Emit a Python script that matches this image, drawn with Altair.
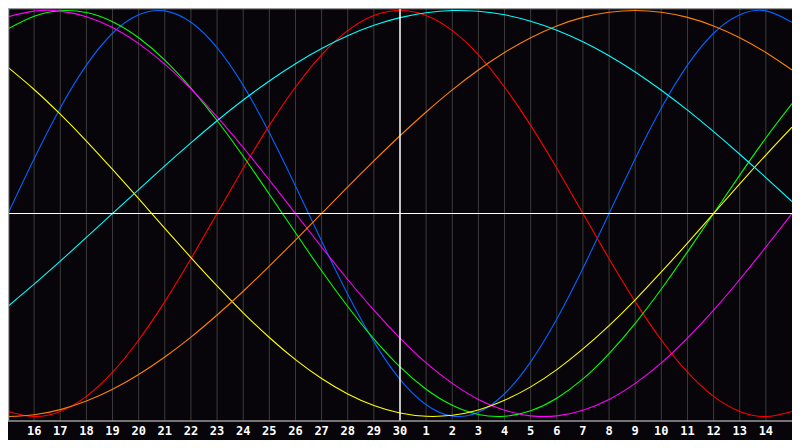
import altair as alt
import pandas as pd

# ---- data (values read at each day gridline, t = 0 .. 30) ----
day_index = list(range(31))

physical = [0.000, 0.270, 0.520, 0.731, 0.888, 0.979, 0.998, 0.942, 0.817, 0.631, 0.398,
            0.136, -0.136, -0.398, -0.631, -0.817, -0.942, -0.998, -0.979, -0.888, -0.731,
            -0.520, -0.270, 0.000, 0.270, 0.520, 0.731, 0.888, 0.979, 0.998, 0.942]
emotional = [-0.975, -1.000, -0.975, -0.901, -0.782, -0.623, -0.434, -0.223, 0.000, 0.223, 0.434,
             0.623, 0.782, 0.901, 0.975, 1.000, 0.975, 0.901, 0.782, 0.623, 0.434,
             0.223, 0.000, -0.223, -0.434, -0.623, -0.782, -0.901, -0.975, -1.000, -0.975]
intellectual = [0.910, 0.972, 0.999, 0.990, 0.945, 0.866, 0.756, 0.618, 0.458, 0.282, 0.095,
                -0.095, -0.282, -0.458, -0.618, -0.756, -0.866, -0.945, -0.990, -0.999, -0.972,
                -0.910, -0.815, -0.690, -0.541, -0.372, -0.189, 0.000, 0.189, 0.372, 0.541]
intuitive = [0.969, 0.997, 0.997, 0.969, 0.916, 0.837, 0.736, 0.614, 0.476, 0.325, 0.165,
             0.000, -0.165, -0.325, -0.476, -0.614, -0.736, -0.837, -0.916, -0.969, -0.997,
             -0.997, -0.969, -0.916, -0.837, -0.736, -0.614, -0.476, -0.325, -0.165, 0.000]
aesthetic = [0.720, 0.611, 0.489, 0.357, 0.217, 0.073, -0.073, -0.217, -0.357, -0.489, -0.611,
             -0.720, -0.813, -0.889, -0.946, -0.983, -0.999, -0.994, -0.968, -0.920, -0.854,
             -0.769, -0.667, -0.552, -0.425, -0.288, -0.146, 0.000, 0.146, 0.288, 0.425]
awareness = [-1.000, -0.991, -0.966, -0.924, -0.866, -0.793, -0.707, -0.609, -0.500, -0.383, -0.259,
             -0.131, 0.000, 0.131, 0.259, 0.383, 0.500, 0.609, 0.707, 0.793, 0.866,
             0.924, 0.966, 0.991, 1.000, 0.991, 0.966, 0.924, 0.866, 0.793, 0.707]
spiritual = [-0.457, -0.348, -0.235, -0.118, 0.000, 0.118, 0.235, 0.348, 0.457, 0.559, 0.653,
             0.738, 0.813, 0.876, 0.927, 0.965, 0.989, 1.000, 0.996, 0.979, 0.947,
             0.903, 0.846, 0.777, 0.697, 0.607, 0.509, 0.403, 0.292, 0.177, 0.059]

series_names = ["physical", "emotional", "intellectual", "intuitive",
                "aesthetic", "awareness", "spiritual"]
series_values = [physical, emotional, intellectual, intuitive,
                 aesthetic, awareness, spiritual]
series_colors = ["#0064ff", "#ff0000", "#00ff00", "#ff00ff",
                 "#ffff00", "#ff8000", "#00ffff"]

label_index = list(range(1, 30))
day_labels = ["16", "17", "18", "19", "20", "21", "22", "23", "24", "25", "26", "27", "28",
              "29", "30", "1", "2", "3", "4", "5", "6", "7", "8", "9", "10", "11", "12",
              "13", "14"]
today_index = 15

# ---- build tables ----
rows = []
for name, vals in zip(series_names, series_values):
    for t, v in zip(day_index, vals):
        rows.append({"t": t, "v": v, "series": name})
df = pd.DataFrame(rows)
df_labels = pd.DataFrame({"t": label_index, "label": day_labels})
df_grid = pd.DataFrame({"t": [t for t in label_index if t != today_index]})

W, H = 784, 413
xs = alt.Scale(domain=[0, 30], range=[0, W], nice=False, zero=False)
ys = alt.Scale(domain=[-1, 1], range=[408.5, 2.5], nice=False, zero=False)

grid = alt.Chart(df_grid).mark_rule(color="#3c3c3c", strokeWidth=1).encode(
    x=alt.X("t:Q", scale=xs, axis=None),
    y=alt.value(0), y2=alt.value(H),
)

lines = alt.Chart(df).mark_line(strokeWidth=1.1, interpolate="natural").encode(
    x=alt.X("t:Q", scale=xs, axis=None),
    y=alt.Y("v:Q", scale=ys, axis=None),
    color=alt.Color("series:N", scale=alt.Scale(domain=series_names, range=series_colors),
                    legend=None),
    detail="series:N",
)

zero_line = alt.Chart(pd.DataFrame({"v": [0]})).mark_rule(color="#ffffff", strokeWidth=1.2).encode(
    y=alt.Y("v:Q", scale=ys, axis=None),
    x=alt.value(0), x2=alt.value(W),
)

today_line = alt.Chart(pd.DataFrame({"t": [today_index]})).mark_rule(
    color="#ffffff", strokeWidth=1.5).encode(
    x=alt.X("t:Q", scale=xs, axis=None),
    y=alt.value(0), y2=alt.value(H),
)

border_top = alt.Chart(pd.DataFrame({"a": [0]})).mark_rule(color="#9a9a9a", strokeWidth=1.5).encode(
    x=alt.value(0), x2=alt.value(W), y=alt.value(0.5))
border_left = alt.Chart(pd.DataFrame({"a": [0]})).mark_rule(color="#a8a8a8", strokeWidth=1.5).encode(
    x=alt.value(0.5), y=alt.value(0), y2=alt.value(H))
border_bottom = alt.Chart(pd.DataFrame({"a": [0]})).mark_rule(color="#9a9a9a", strokeWidth=1.5).encode(
    x=alt.value(0), x2=alt.value(W), y=alt.value(H))

labels = alt.Chart(df_labels).mark_text(
    color="#ffffff", font="DejaVu Sans Mono", fontSize=12, fontWeight="bold",
    align="center", baseline="middle").encode(
    x=alt.X("t:Q", scale=xs, axis=None),
    y=alt.value(H + 10),
    text="label:N",
)

chart = alt.layer(
    grid, lines, zero_line, today_line, border_top, border_left, border_bottom, labels
).properties(
    width=W, height=H,
    autosize=alt.AutoSizeParams(type="none"),
    padding={"left": 0, "top": 0, "right": 0, "bottom": 19},
).configure(
    background="#070509",
).configure_view(stroke=None)

chart.save("out.html", embed_options={"renderer": "svg", "actions": False})
